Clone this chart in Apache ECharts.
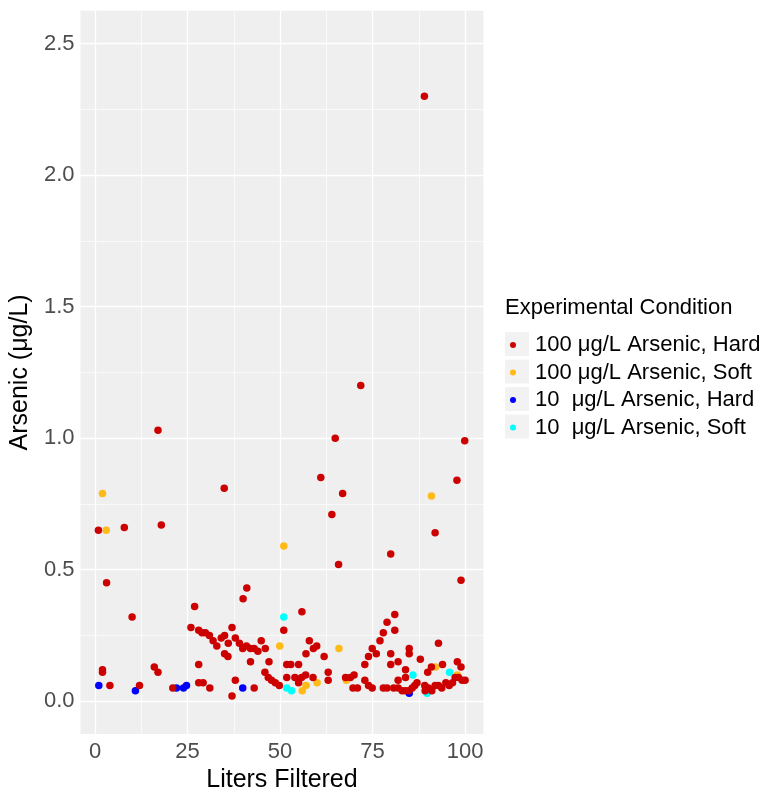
<!DOCTYPE html>
<html>
<head>
<meta charset="utf-8">
<script src="https://cdn.jsdelivr.net/npm/echarts@6/dist/echarts.min.js"></script>
<style>html,body{margin:0;padding:0;background:#fff}#c{width:771px;height:798px}</style>
</head>
<body>
<div id="c"></div>
<script>
// ---- data (Liters Filtered, Arsenic µg/L) ----
const seriesNames = ['100 μg/L Arsenic, Hard', '100 μg/L Arsenic, Soft', '10  μg/L Arsenic, Hard', '10  μg/L Arsenic, Soft'];
const hard100 = [
[0.9,0.65],[2.0,0.12],[2.0,0.11],[3.1,0.45],[4.0,0.06],[7.9,0.66],[10.0,0.32],[12.0,0.06],[16.0,0.13],[17.0,0.11],[17.0,1.03],[17.9,0.67],[21.0,0.05],
[25.9,0.28],[26.9,0.36],[28.0,0.27],[28.0,0.14],[28.0,0.07],[28.9,0.26],[29.2,0.07],[29.8,0.26],[30.9,0.25],[31.0,0.05],[31.9,0.23],[32.9,0.21],[34.1,0.24],[35.0,0.25],[34.9,0.81],[35.0,0.18],[35.9,0.17],[36.0,0.22],[37.0,0.28],[37.0,0.02],[37.9,0.24],[37.9,0.08],[39.0,0.22],[39.9,0.20],[40.0,0.39],[40.9,0.21],[41.0,0.43],[42.0,0.20],[42.0,0.15],[43.0,0.20],[43.0,0.05],[44.0,0.19],[44.9,0.23],[46.0,0.20],[45.9,0.11],[47.0,0.15],[46.8,0.09],[47.7,0.08],[48.7,0.07],[49.8,0.06],
[51.0,0.27],[51.8,0.14],[51.8,0.09],[52.9,0.14],[54.0,0.09],[55.0,0.14],[55.0,0.07],[55.8,0.09],[55.9,0.34],[56.9,0.10],[57.0,0.18],[57.9,0.23],[58.9,0.09],[59.0,0.20],[59.9,0.21],[61.0,0.85],[61.9,0.17],[63.0,0.11],[63.0,0.08],[64.0,0.71],[64.9,1.00],[65.8,0.52],[66.9,0.79],[67.7,0.09],[69.0,0.09],[70.0,0.10],[69.7,0.05],[70.9,0.05],[71.8,1.20],
[72.9,0.14],[72.9,0.08],[73.9,0.17],[73.9,0.06],[74.9,0.20],[74.9,0.05],[76.0,0.18],[77.0,0.23],[77.9,0.26],[77.9,0.05],[78.9,0.30],[78.9,0.05],[79.9,0.18],[79.9,0.14],[79.9,0.56],[81.0,0.33],[81.0,0.27],[80.7,0.05],[81.9,0.15],[81.9,0.08],[81.9,0.05],[83.0,0.04],[83.9,0.12],[83.9,0.09],[83.9,0.04],[84.9,0.20],[84.9,0.18],[84.8,0.04],[85.7,0.05],[86.4,0.06],[87.0,0.07],[87.9,0.16],[89.0,2.30],[89.1,0.06],[89.2,0.04],[89.9,0.11],[90.1,0.05],[90.9,0.13],[91.0,0.04],[91.9,0.06],[91.9,0.64],[92.8,0.22],[92.8,0.06],[93.9,0.14],[93.7,0.05],[94.8,0.07],[95.7,0.06],[96.6,0.07],[97.3,0.09],[97.9,0.15],[97.8,0.84],[98.2,0.09],[98.9,0.13],[98.9,0.46],[99.2,0.08],[100.0,0.08],[99.9,0.99]
];
const soft100 = [[2.0,0.79],[3.0,0.65],[49.9,0.21],[51.0,0.59],[56.0,0.04],[57.0,0.06],[60.0,0.07],[65.9,0.20],[67.9,0.08],[90.9,0.78],[92.0,0.13],[97.9,0.10]];
const hard10 = [[1.0,0.06],[10.9,0.04],[22.0,0.05],[23.9,0.05],[24.7,0.06],[39.9,0.05],[84.9,0.03]];
const soft10 = [[51.0,0.32],[51.8,0.05],[53.1,0.04],[85.9,0.10],[89.7,0.03],[95.8,0.11]];
const xTicks = [0, 25, 50, 75, 100];
const xMinor = [12.5, 37.5, 62.5, 87.5];
const yTicks = [0, 0.5, 1.0, 1.5, 2.0, 2.5];
const yMinor = [0.25, 0.75, 1.25, 1.75, 2.25];

const colors = ['#CD0000', '#FFBA17', '#0000FF', '#00FFFF'];
const FONT = '"Liberation Sans", Arial, sans-serif';

const chart = echarts.init(document.getElementById('c'), null, {renderer: 'canvas'});

const gridLines = [];
xMinor.forEach(v => gridLines.push({xAxis: v, lineStyle: {width: 0.7}}));
yMinor.forEach(v => gridLines.push({yAxis: v, lineStyle: {width: 0.7}}));
xTicks.forEach(v => gridLines.push({xAxis: v, lineStyle: {width: 1.3}}));
yTicks.forEach(v => gridLines.push({yAxis: v, lineStyle: {width: 1.3}}));

const keyCenters = [344, 371.5, 399, 426.5];

const option = {
  animation: false,
  textStyle: {fontFamily: FONT},
  title: {
    text: 'Experimental Condition',
    left: 500, top: 292,
    textStyle: {fontSize: 22, fontWeight: 'normal', color: '#000', fontFamily: FONT}
  },
  graphic: keyCenters.map(c => ({
    type: 'rect', shape: {x: 505, y: c - 12, width: 24, height: 24},
    style: {fill: '#F2F2F2'}, z: 0
  })),
  legend: {
    orient: 'vertical', left: 505, top: 329,
    itemWidth: 24, itemHeight: 6, itemGap: 5.5,
    icon: 'circle',
    data: seriesNames,
    textStyle: {fontSize: 22, color: '#000', fontFamily: FONT, padding: [0,0,0,5]},
    selectedMode: false
  },
  grid: {left: 78.6, right: 287.6, top: 10.7, bottom: 61.3, show: true, backgroundColor: '#EFEFEF', borderWidth: 0},
  xAxis: {
    type: 'value', min: -3.95, max: 104.95,
    name: 'Liters Filtered', nameLocation: 'middle', nameGap: 26,
    nameTextStyle: {fontSize: 25, color: '#000', fontFamily: FONT},
    axisLine: {show: false},
    splitLine: {show: false},
    axisTick: {show: true, customValues: xTicks, length: 4, lineStyle: {color: '#333', width: 1}},
    axisLabel: {customValues: xTicks, fontSize: 22, color: '#4D4D4D', margin: 7, fontFamily: FONT}
  },
  yAxis: {
    type: 'value', min: -0.125, max: 2.625,
    name: 'Arsenic (μg/L)', nameLocation: 'middle', nameGap: 43,
    nameTextStyle: {fontSize: 25, color: '#000', fontFamily: FONT},
    axisLine: {show: false},
    splitLine: {show: false},
    axisTick: {show: true, customValues: yTicks, length: 4, lineStyle: {color: '#333', width: 1}},
    axisLabel: {customValues: yTicks, fontSize: 22, color: '#4D4D4D', margin: 6, fontFamily: FONT,
      formatter: v => Number(v).toFixed(1)}
  },
  series: [
    {
      type: 'scatter', name: '__grid', data: [], z: 1, silent: true,
      markLine: {silent: true, z: 1, symbol: 'none', label: {show: false}, animation: false,
        lineStyle: {color: '#FFFFFF', type: 'solid'}, data: gridLines}
    },
    {type: 'scatter', name: seriesNames[0], data: hard100, symbolSize: 7.5, z: 4, itemStyle: {color: colors[0], opacity: 1}},
    {type: 'scatter', name: seriesNames[1], data: soft100, symbolSize: 7.5, z: 3, itemStyle: {color: colors[1], opacity: 1}},
    {type: 'scatter', name: seriesNames[2], data: hard10, symbolSize: 7.5, z: 3, itemStyle: {color: colors[2], opacity: 1}},
    {type: 'scatter', name: seriesNames[3], data: soft10, symbolSize: 7.5, z: 3, itemStyle: {color: colors[3], opacity: 1}}
  ]
};
chart.setOption(option);
</script>
</body>
</html>
